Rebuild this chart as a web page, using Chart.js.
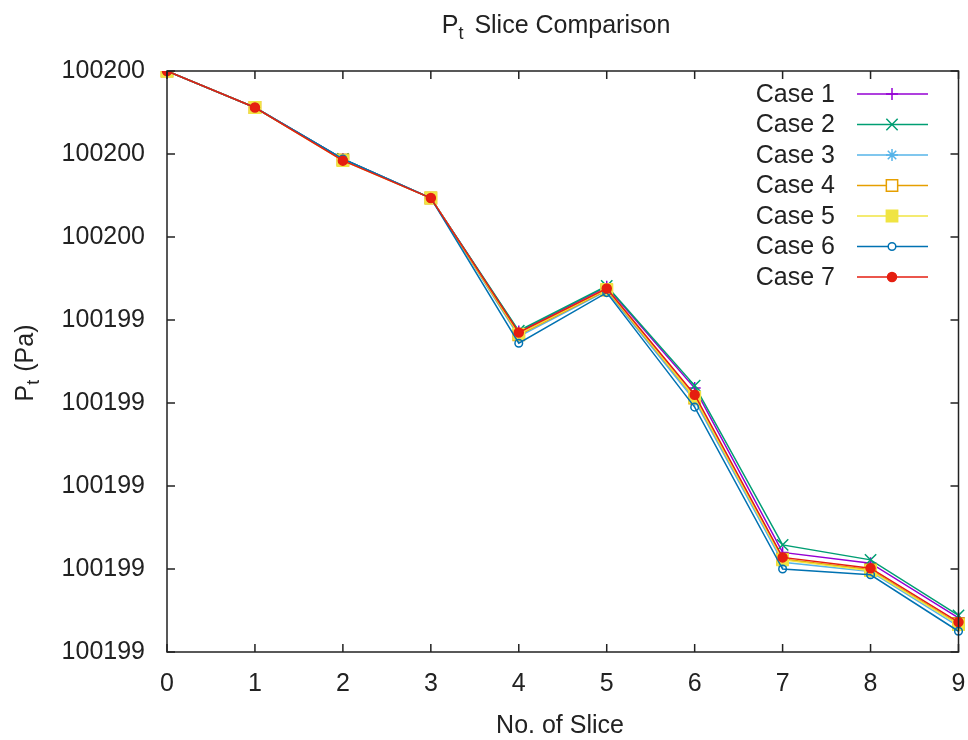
<!DOCTYPE html>
<html lang="en">
<head>
<meta charset="UTF-8">
<title>Pt Slice Comparison</title>
<script src="https://cdn.jsdelivr.net/npm/chart.js@4.4.1/dist/chart.umd.min.js"></script>
<style>
    html, body { margin: 0; padding: 0; background: #fff; }
    #wrap { width: 968px; height: 740px; }
</style>
</head>
<body>
<div id="wrap"><canvas id="chart" width="968" height="740"></canvas></div>
<script>
// slice numbers along the x axis
var slices = ['0', '1', '2', '3', '4', '5', '6', '7', '8', '9'];

// total pressure at each slice (Pa)
var case1 = [100199.700, 100199.656, 100199.594, 100199.547, 100199.386, 100199.440, 100199.318, 100199.120, 100199.107, 100199.041];
var case2 = [100199.700, 100199.656, 100199.594, 100199.547, 100199.387, 100199.441, 100199.321, 100199.129, 100199.111, 100199.044];
var case3 = [100199.700, 100199.656, 100199.593, 100199.547, 100199.380, 100199.435, 100199.303, 100199.108, 100199.097, 100199.031];
var case4 = [100199.700, 100199.656, 100199.593, 100199.547, 100199.382, 100199.436, 100199.306, 100199.112, 100199.099, 100199.034];
var case5 = [100199.700, 100199.656, 100199.592, 100199.547, 100199.383, 100199.437, 100199.307, 100199.111, 100199.098, 100199.033];
var case6 = [100199.700, 100199.656, 100199.594, 100199.547, 100199.372, 100199.433, 100199.295, 100199.100, 100199.093, 100199.025];
var case7 = [100199.700, 100199.656, 100199.592, 100199.547, 100199.385, 100199.438, 100199.310, 100199.114, 100199.101, 100199.036];

var caseNames = ['Case 1', 'Case 2', 'Case 3', 'Case 4', 'Case 5', 'Case 6', 'Case 7'];
var caseData = [case1, case2, case3, case4, case5, case6, case7];

// y axis range and tick step
var yMin = 100199.0;
var yMax = 100199.7;
var yStep = 0.1;

// gnuplot-ish line colours and point types
var colors = ['#9400d3', '#009e73', '#56b4e9', '#e69f00', '#f0e442', '#0072b2', '#e51e10'];
var markers = ['cross', 'crossRot', 'star', 'rect', 'rect', 'circle', 'circle'];
var filled = [false, false, false, false, true, false, true];
var markerSize = [6, 8, 6, 8, 8, 3.8, 4.5];

var FONT = '"Liberation Sans", Arial, sans-serif';
var TEXT = '#222';

Chart.defaults.font.family = FONT;
Chart.defaults.font.size = 25;
Chart.defaults.color = TEXT;

var datasets = caseData.map(function (d, i) {
    return {
        label: caseNames[i],
        data: d,
        borderColor: colors[i],
        backgroundColor: colors[i],
        borderWidth: 1.5,
        pointStyle: markers[i],
        pointRadius: markerSize[i],
        pointHoverRadius: markerSize[i],
        pointBorderColor: colors[i],
        pointBackgroundColor: filled[i] ? colors[i] : 'rgba(0,0,0,0)',
        pointBorderWidth: 1.5,
        tension: 0,
        order: caseNames.length - i   // later cases on top
    };
});

// text pieces laid out left to right, some of them as subscripts
function richWidth(ctx, parts) {
    var w = 0;
    parts.forEach(function (p) {
        ctx.font = (p.sub ? 18 : 25) + 'px ' + FONT;
        w += ctx.measureText(p.t).width + (p.gap || 0);
    });
    return w;
}

function drawRich(ctx, parts, cx, y) {
    var x = cx - richWidth(ctx, parts) / 2;
    ctx.textAlign = 'left';
    ctx.textBaseline = 'alphabetic';
    parts.forEach(function (p) {
        ctx.font = (p.sub ? 18 : 25) + 'px ' + FONT;
        ctx.fillText(p.t, x, y + (p.sub ? 6 : 0));
        x += ctx.measureText(p.t).width + (p.gap || 0);
    });
}

var decorations = {
    id: 'decorations',
    afterDraw: function (chart) {
        var ctx = chart.ctx;
        var a = chart.chartArea;
        var xs = chart.scales.x;
        var ys = chart.scales.y;
        var tick = 8;

        ctx.save();
        ctx.strokeStyle = '#222';
        ctx.lineWidth = 1.5;
        ctx.strokeRect(a.left, a.top, a.right - a.left, a.bottom - a.top);

        // inward tick marks, mirrored on top and right
        ctx.beginPath();
        xs.ticks.forEach(function (t, i) {
            var px = xs.getPixelForTick(i);
            ctx.moveTo(px, a.bottom); ctx.lineTo(px, a.bottom - tick);
            ctx.moveTo(px, a.top); ctx.lineTo(px, a.top + tick);
        });
        ys.ticks.forEach(function (t) {
            var py = ys.getPixelForValue(t.value);
            ctx.moveTo(a.left, py); ctx.lineTo(a.left + tick, py);
            ctx.moveTo(a.right, py); ctx.lineTo(a.right - tick, py);
        });
        ctx.stroke();

        ctx.fillStyle = TEXT;

        // title
        drawRich(ctx, [{ t: 'P' }, { t: 't', sub: true, gap: 11 }, { t: 'Slice Comparison' }], 556, 33);

        // x axis title
        ctx.font = '25px ' + FONT;
        ctx.textAlign = 'center';
        ctx.textBaseline = 'alphabetic';
        ctx.fillText('No. of Slice', 560, 733);

        // y axis title
        ctx.save();
        ctx.translate(33, 363);
        ctx.rotate(-Math.PI / 2);
        drawRich(ctx, [{ t: 'P' }, { t: 't', sub: true, gap: 8 }, { t: '(Pa)' }], 0, 0);
        ctx.restore();

        // key in the top right corner
        chart.data.datasets.forEach(function (ds, i) {
            var y = 94 + i * 30.5;
            ctx.font = '25px ' + FONT;
            ctx.textAlign = 'right';
            ctx.textBaseline = 'middle';
            ctx.fillStyle = TEXT;
            ctx.fillText(ds.label, 835, y + 1);

            ctx.strokeStyle = ds.borderColor;
            ctx.lineWidth = 1.5;
            ctx.beginPath();
            ctx.moveTo(857, y);
            ctx.lineTo(928, y);
            ctx.stroke();

            ctx.fillStyle = filled[i] ? ds.borderColor : '#fff';
            Chart.helpers.drawPoint(ctx, {
                pointStyle: ds.pointStyle,
                radius: ds.pointRadius,
                borderWidth: 1.5,
                rotation: 0
            }, 892, y);
        });
        ctx.restore();
    }
};

new Chart(document.getElementById('chart'), {
    type: 'line',
    data: { labels: slices, datasets: datasets },
    options: {
        responsive: false,
        animation: false,
        layout: { padding: { left: 0, top: 71, right: 6, bottom: 0 } },
        plugins: {
            legend: { display: false },
            title: { display: false },
            tooltip: { enabled: false }
        },
        scales: {
            x: {
                type: 'category',
                offset: false,
                grid: { display: false, drawTicks: false },
                border: { display: false },
                ticks: { padding: 17, color: TEXT, maxRotation: 0, autoSkip: false },
                afterFit: function (s) {
                    s.height = 88;
                    s.paddingLeft = 0;
                    s.paddingRight = 0;
                }
            },
            y: {
                min: yMin,
                max: yMax,
                grid: { display: false, drawTicks: false },
                border: { display: false },
                ticks: {
                    stepSize: yStep,
                    padding: 22,
                    color: TEXT,
                    callback: function (v) { return Math.round(v).toString(); }
                },
                afterFit: function (s) { s.width = 167; }
            }
        }
    },
    plugins: [decorations]
});
</script>
</body>
</html>
